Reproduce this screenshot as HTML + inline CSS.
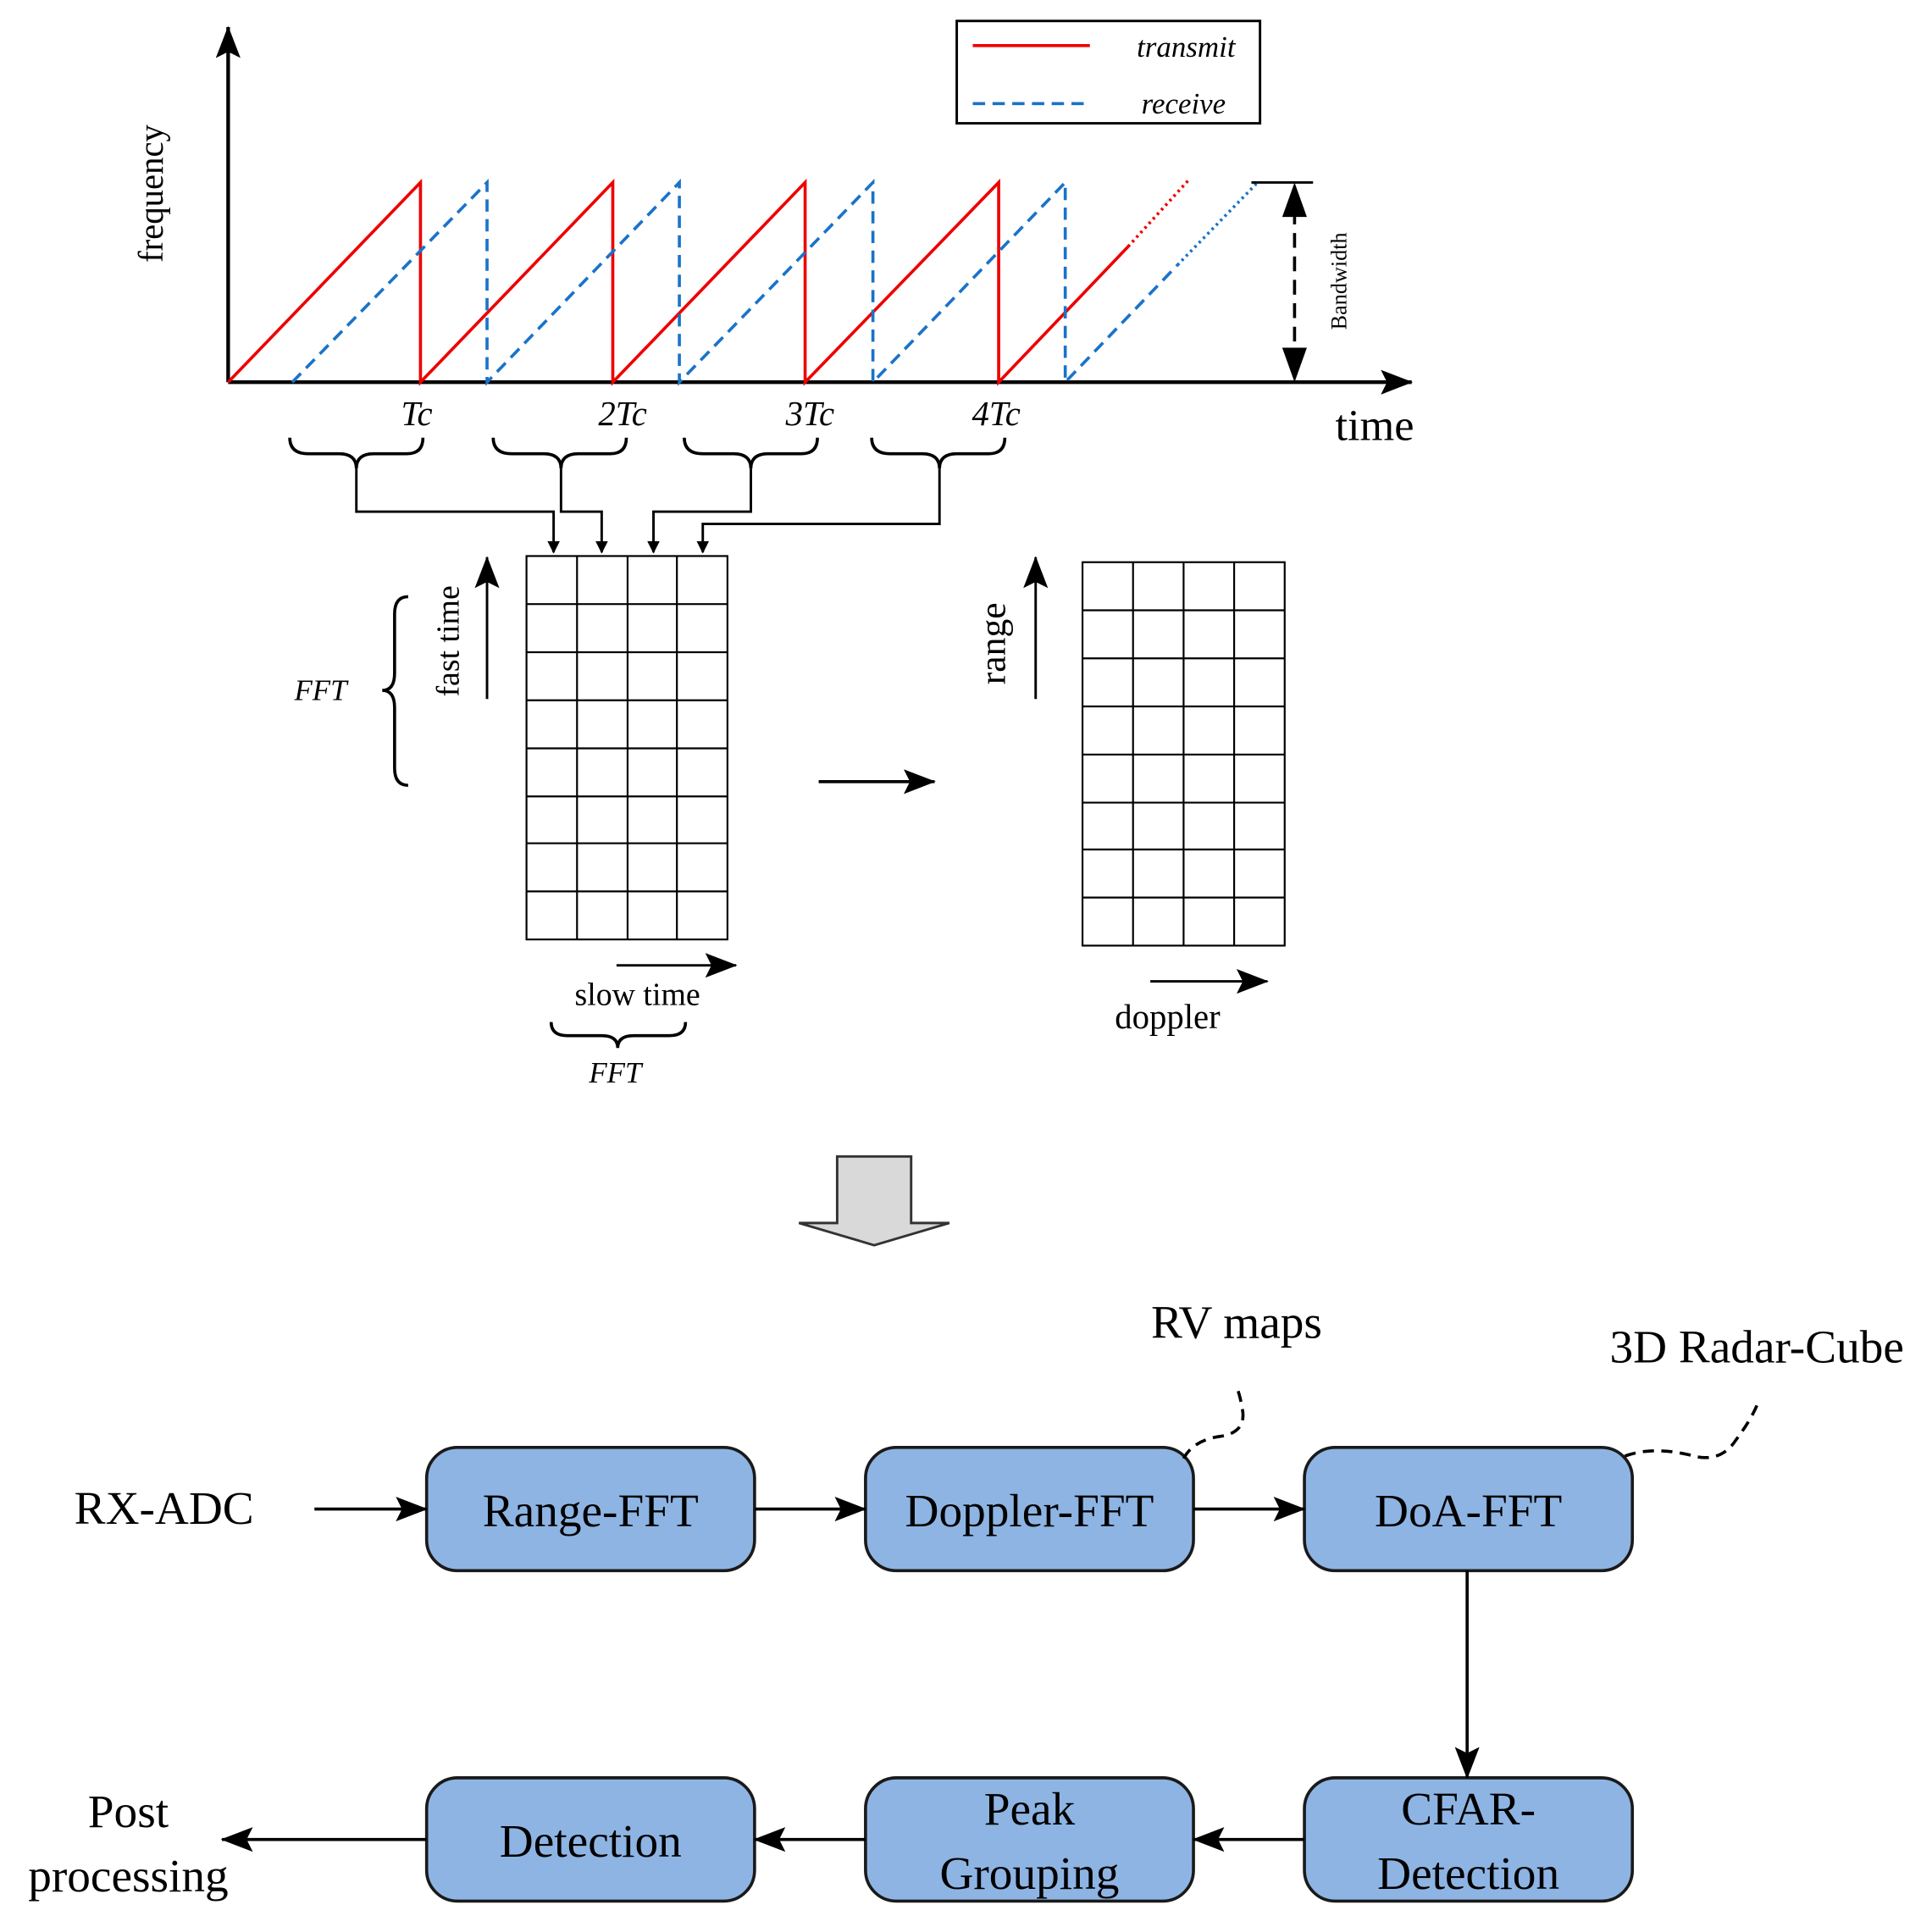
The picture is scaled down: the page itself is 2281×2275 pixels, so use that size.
<!DOCTYPE html>
<html><head><meta charset="utf-8"><style>html,body{margin:0;padding:0;background:#fff}svg{display:block}</style></head><body>
<svg width="2281" height="2275" viewBox="0 0 1567 1563" xmlns="http://www.w3.org/2000/svg" font-family="'Liberation Serif', serif">
<defs>
<marker id="a" markerWidth="10" markerHeight="10" refX="9" refY="5" orient="auto" markerUnits="userSpaceOnUse"><path d="M0,0 L10,5 L0,10 z" fill="#000"/></marker>
<marker id="b" markerWidth="26" markerHeight="20" refX="25" refY="10" orient="auto" markerUnits="userSpaceOnUse"><path d="M0,0 L26,10 L0,20 L5,10 z" fill="#000"/></marker>
</defs>
<line x1="185" y1="310" x2="185" y2="22" stroke="#000" stroke-width="3" marker-end="url(#b)"/>
<line x1="185" y1="310" x2="1145" y2="310" stroke="#000" stroke-width="3" marker-end="url(#b)"/>
<text x="132" y="157" font-size="28" text-anchor="middle" transform="rotate(-90 132 157)">frequency</text>
<text x="1115" y="357" font-size="36" text-anchor="middle">time</text>
<rect x="776" y="17" width="246" height="83" fill="#fff" stroke="#000" stroke-width="2"/>
<line x1="789" y1="37" x2="884" y2="37" stroke="#e00" stroke-width="2.5"/>
<text x="962" y="46" font-size="24" font-style="italic" text-anchor="middle">transmit</text>
<line x1="789" y1="84" x2="884" y2="84" stroke="#1a73c8" stroke-width="2.5" stroke-dasharray="10,6"/>
<text x="960" y="92" font-size="24" font-style="italic" text-anchor="middle">receive</text>
<polyline points="185,310 341,148 341,310 497,148 497,310 653,148 653,310 810,148 810,310 915,200" fill="none" stroke="#e00" stroke-width="2.5"/>
<line x1="915" y1="200" x2="965" y2="145" stroke="#e00" stroke-width="2.5" stroke-dasharray="2,3"/>
<polyline points="237,310 395,148 395,310 551,148 551,310 708,148 708,310 864,148 864,310 955,215" fill="none" stroke="#1a73c8" stroke-width="2.5" stroke-dasharray="10,6"/>
<line x1="955" y1="215" x2="1020" y2="148" stroke="#1a73c8" stroke-width="2.5" stroke-dasharray="2,3"/>
<line x1="1015" y1="148" x2="1065" y2="148" stroke="#000" stroke-width="2"/>
<line x1="1050" y1="170" x2="1050" y2="290" stroke="#000" stroke-width="2.5" stroke-dasharray="12,7"/>
<path d="M1050,148 L1060,176 L1040,176 z M1050,310 L1060,282 L1040,282 z" fill="#000"/>
<text x="1092" y="228" font-size="18" text-anchor="middle" transform="rotate(-90 1092 228)">Bandwidth</text>
<g font-size="28" font-style="italic" text-anchor="middle">
<text x="338" y="345">Tc</text><text x="505" y="345">2Tc</text><text x="657" y="345">3Tc</text><text x="808" y="345">4Tc</text>
</g>
<g fill="none" stroke="#000" stroke-width="2.5">
<path d="M235,355 Q235,368 250,368 L275,368 Q289,368 289,380 Q289,368 303,368 L330,368 Q343,368 343,355"/>
<path d="M400,355 Q400,368 415,368 L441,368 Q455,368 455,380 Q455,368 469,368 L495,368 Q508,368 508,355"/>
<path d="M555,355 Q555,368 570,368 L595,368 Q609,368 609,380 Q609,368 623,368 L650,368 Q663,368 663,355"/>
<path d="M707,355 Q707,368 722,368 L748,368 Q762,368 762,380 Q762,368 776,368 L802,368 Q815,368 815,355"/>
</g>
<g fill="none" stroke="#000" stroke-width="2">
<polyline points="289,380 289,415 449,415 449,448" marker-end="url(#a)"/>
<polyline points="455,380 455,415 488,415 488,448" marker-end="url(#a)"/>
<polyline points="609,380 609,415 530,415 530,448" marker-end="url(#a)"/>
<polyline points="762,380 762,425 570,425 570,448" marker-end="url(#a)"/>
</g>
<g stroke="#000" stroke-width="1.5" fill="none">
<rect x="427" y="451" width="163" height="311"/>
<path d="M468,451V762M509,451V762M549,451V762M427,490H590M427,529H590M427,568H590M427,607H590M427,646H590M427,684H590M427,723H590"/>
<rect x="878" y="456" width="164" height="311"/>
<path d="M919,456V767M960,456V767M1001,456V767M878,495H1042M878,534H1042M878,573H1042M878,612H1042M878,651H1042M878,689H1042M878,728H1042"/>
</g>
<line x1="395" y1="567" x2="395" y2="452" stroke="#000" stroke-width="2" marker-end="url(#b)"/>
<text x="372" y="520" font-size="26" text-anchor="middle" transform="rotate(-90 372 520)">fast time</text>
<text x="260" y="568" font-size="24" font-style="italic" text-anchor="middle">FFT</text>
<path d="M331,484 Q320,484 320,498 L320,546 Q320,560 310,560 Q320,560 320,574 L320,623 Q320,637 331,637" fill="none" stroke="#000" stroke-width="2.5"/>
<line x1="500" y1="783" x2="597" y2="783" stroke="#000" stroke-width="2" marker-end="url(#b)"/>
<text x="517" y="815" font-size="26" text-anchor="middle">slow time</text>
<path d="M447,829 Q447,840 460,840 L488,840 Q501,840 501,850 Q501,840 514,840 L543,840 Q556,840 556,829" fill="none" stroke="#000" stroke-width="2.5"/>
<text x="499" y="878" font-size="24" font-style="italic" text-anchor="middle">FFT</text>
<line x1="664" y1="634" x2="758" y2="634" stroke="#000" stroke-width="2.5" marker-end="url(#b)"/>
<line x1="840" y1="567" x2="840" y2="452" stroke="#000" stroke-width="2" marker-end="url(#b)"/>
<text x="815" y="522" font-size="30" text-anchor="middle" transform="rotate(-90 815 522)">range</text>
<line x1="933" y1="796" x2="1028" y2="796" stroke="#000" stroke-width="2" marker-end="url(#b)"/>
<text x="947" y="834" font-size="28" text-anchor="middle">doppler</text>
<path d="M679,938 L739,938 L739,992 L770,992 L709,1010 L648,992 L679,992 z" fill="#d9d9d9" stroke="#333" stroke-width="2"/>
<g fill="#8eb4e3" stroke="#1a1a1a" stroke-width="2.5">
<rect x="346" y="1174" width="266" height="100" rx="25"/>
<rect x="702" y="1174" width="266" height="100" rx="25"/>
<rect x="1058" y="1174" width="266" height="100" rx="25"/>
<rect x="346" y="1442" width="266" height="100" rx="25"/>
<rect x="702" y="1442" width="266" height="100" rx="25"/>
<rect x="1058" y="1442" width="266" height="100" rx="25"/>
</g>
<g font-size="38" text-anchor="middle">
<text x="479" y="1238">Range-FFT</text>
<text x="835" y="1238">Doppler-FFT</text>
<text x="1191" y="1238">DoA-FFT</text>
<text x="1191" y="1480">CFAR-</text><text x="1191" y="1532">Detection</text>
<text x="835" y="1480">Peak</text><text x="835" y="1532">Grouping</text>
<text x="479" y="1506">Detection</text>
<text x="133" y="1236">RX-ADC</text>
<text x="104" y="1482">Post</text><text x="104" y="1534">processing</text>
<text x="1003" y="1085">RV maps</text>
<text x="1425" y="1105">3D Radar-Cube</text>
</g>
<g stroke="#000" stroke-width="2.5">
<line x1="255" y1="1224" x2="346" y2="1224" marker-end="url(#b)"/>
<line x1="612" y1="1224" x2="702" y2="1224" marker-end="url(#b)"/>
<line x1="968" y1="1224" x2="1058" y2="1224" marker-end="url(#b)"/>
<line x1="1190" y1="1274" x2="1190" y2="1442" marker-end="url(#b)"/>
<line x1="1058" y1="1492" x2="968" y2="1492" marker-end="url(#b)"/>
<line x1="702" y1="1492" x2="612" y2="1492" marker-end="url(#b)"/>
<line x1="346" y1="1492" x2="180" y2="1492" marker-end="url(#b)"/>
</g>
<path d="M960,1183 Q968,1168 990,1165 Q1010,1162 1008,1145 Q1006,1132 1003,1125" fill="none" stroke="#000" stroke-width="2.5" stroke-dasharray="9,6"/>
<path d="M1318,1181 Q1340,1173 1370,1180 Q1395,1188 1408,1168 Q1420,1152 1425,1140" fill="none" stroke="#000" stroke-width="2.5" stroke-dasharray="9,6"/>
</svg>
</body></html>
